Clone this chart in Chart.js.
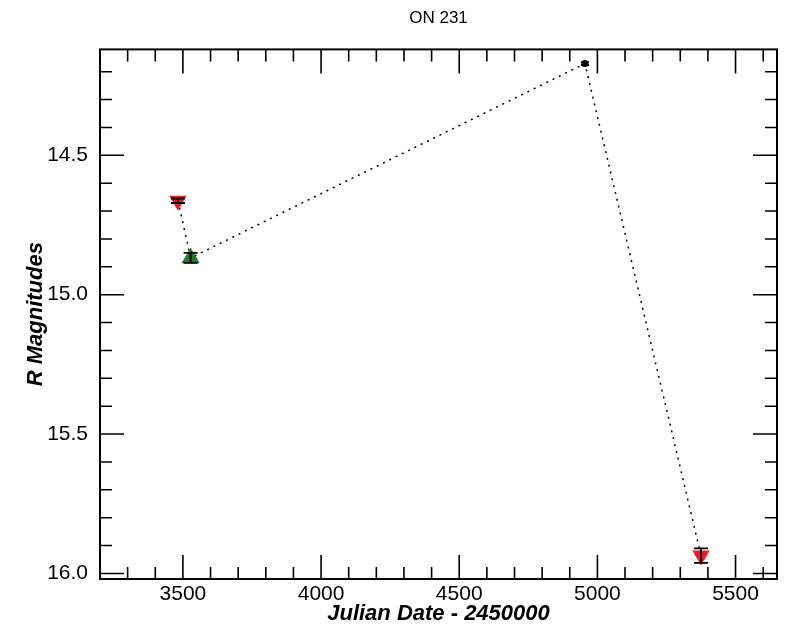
<!DOCTYPE html>
<html>
<head>
<meta charset="utf-8">
<script src="https://cdn.jsdelivr.net/npm/chart.js@4.4.1/dist/chart.umd.min.js"></script>
<style>
  html, body { margin: 0; padding: 0; background: #fff; }
  #wrap { width: 787px; height: 628px; }
</style>
</head>
<body>
<div id="wrap"><canvas id="lc"></canvas></div>
<script>
// light curve of ON 231, R band
const julianDates = [3482, 3528, 4955, 5375];
const rMags = [14.663, 14.868, 14.171, 15.936];
const rErrs = [0.008, 0.018, 0.005, 0.026];
const markStyles = ['triangle', 'triangle', 'circle', 'triangle'];
const markRotation = [180, 0, 0, 180];
const markColors = ['#ec1c24', '#1f7d26', '#000000', '#ec1c24'];
const markRadius = [10, 10.5, 3.5, 10];

const xMajor = [3500, 4000, 4500, 5000, 5500];
const yMajor = [14.5, 15.0, 15.5, 16.0];

const FONT = '"Liberation Sans", Arial, Helvetica, sans-serif';

// vertical error bars with caps
const errorBars = {
    id: 'errorBars',
    afterDatasetsDraw(chart) {
        const { ctx, scales: { x, y } } = chart;
        ctx.save();
        ctx.strokeStyle = '#000';
        ctx.lineWidth = 1.8;
        julianDates.forEach((jd, i) => {
            const px = x.getPixelForValue(jd);
            const top = y.getPixelForValue(rMags[i] - rErrs[i]);
            const bot = y.getPixelForValue(rMags[i] + rErrs[i]);
            const half = i === 2 ? 4 : 7;
            ctx.beginPath();
            ctx.moveTo(px, top); ctx.lineTo(px, bot);
            ctx.moveTo(px - half, top); ctx.lineTo(px + half, top);
            ctx.moveTo(px - half, bot); ctx.lineTo(px + half, bot);
            ctx.stroke();
        });
        ctx.restore();
    },
};

// box frame with inward major/minor ticks on all four sides
const frameTicks = {
    id: 'frameTicks',
    afterDraw(chart) {
        const { ctx, chartArea: a, scales: { x, y } } = chart;
        ctx.save();
        ctx.strokeStyle = '#000';
        ctx.lineWidth = 2;
        ctx.strokeRect(a.left, a.top, a.right - a.left, a.bottom - a.top);
        ctx.lineWidth = 1.6;
        ctx.beginPath();
        for (let v = 3300; v <= x.max; v += 100) {
            const px = x.getPixelForValue(v);
            const len = v % 500 === 0 ? 24 : 12;
            ctx.moveTo(px, a.bottom); ctx.lineTo(px, a.bottom - len);
            ctx.moveTo(px, a.top); ctx.lineTo(px, a.top + len);
        }
        for (let k = 142; k <= 160; k++) {
            const v = k / 10;
            const py = y.getPixelForValue(v);
            const len = k % 5 === 0 ? 24 : 12;
            ctx.moveTo(a.left, py); ctx.lineTo(a.left + len, py);
            ctx.moveTo(a.right, py); ctx.lineTo(a.right - len, py);
        }
        ctx.stroke();
        ctx.restore();
    },
};

new Chart(document.getElementById('lc'), {
    type: 'scatter',
    data: {
        datasets: [{
            label: 'R',
            data: julianDates.map((jd, i) => ({ x: jd, y: rMags[i] })),
            showLine: true,
            borderColor: '#000',
            borderWidth: 1.5,
            borderDash: [2, 5],
            pointStyle: markStyles,
            rotation: markRotation,
            pointRadius: markRadius,
            pointBackgroundColor: markColors,
            pointBorderColor: markColors,
            pointBorderWidth: 0,
        }],
    },
    options: {
        responsive: true,
        maintainAspectRatio: false,
        animation: false,
        layout: { padding: { left: 0, right: 4, top: 0, bottom: 0 } },
        plugins: {
            legend: { display: false },
            tooltip: { enabled: false },
            title: {
                display: true,
                fullSize: false,
                text: 'ON 231',
                color: '#000',
                font: { family: FONT, size: 17, weight: 'normal' },
                padding: { top: 8, bottom: 21 },
            },
        },
        scales: {
            x: {
                type: 'linear',
                min: 3200,
                max: 5650,
                grid: { display: false, drawTicks: false },
                border: { display: false },
                afterBuildTicks: (s) => { s.ticks = xMajor.map(v => ({ value: v })); },
                afterFit: (s) => { s.height = 49; },
                ticks: {
                    color: '#000',
                    padding: 3,
                    maxRotation: 0,
                    font: { family: FONT, size: 21 },
                    callback: (v) => String(v),
                },
                title: {
                    display: true,
                    text: 'Julian Date - 2450000',
                    color: '#000',
                    font: { family: FONT, size: 22, weight: 'bold', style: 'italic' },
                    padding: { top: 0, bottom: 1 },
                },
            },
            y: {
                type: 'linear',
                reverse: true,
                min: 14.12,
                max: 16.02,
                grid: { display: false, drawTicks: false },
                border: { display: false },
                afterBuildTicks: (s) => { s.ticks = yMajor.map(v => ({ value: v })); },
                afterFit: (s) => { s.width = 100; },
                ticks: {
                    color: '#000',
                    padding: 12,
                    font: { family: FONT, size: 21 },
                    callback: (v) => Number(v).toFixed(1),
                },
                title: {
                    display: true,
                    text: 'R Magnitudes',
                    color: '#000',
                    font: { family: FONT, size: 22, weight: 'bold', style: 'italic' },
                    padding: { top: 23, bottom: 0 },
                },
            },
        },
    },
    plugins: [errorBars, frameTicks],
});
</script>
</body>
</html>
